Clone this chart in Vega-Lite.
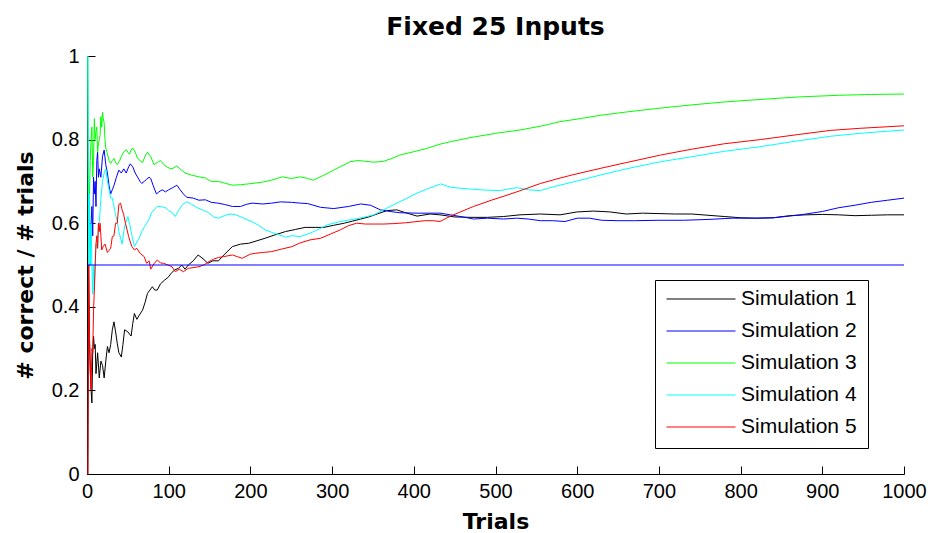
{
  "$schema": "https://vega.github.io/schema/vega-lite/v6.json",
  "width": 817,
  "height": 418,
  "autosize": "none",
  "padding": {"left": 87, "top": 56, "right": 24, "bottom": 59},
  "background": "white",
  "title": {"text": "Fixed 25 Inputs", "font": "DejaVu Sans", "fontSize": 25, "fontWeight": "bold", "color": "black", "anchor": "middle", "offset": 6},
  "config": {
    "view": {"stroke": null},
    "axis": {"grid": false, "domainColor": "black", "tickColor": "black", "labelColor": "black", "titleColor": "black", "labelFont": "Liberation Sans", "labelFontSize": 20, "titleFont": "DejaVu Sans", "titleFontSize": 22, "titleFontWeight": "bold", "tickSize": -8, "domainWidth": 1, "tickWidth": 1, "labelFlush": false, "labelOverlap": false}
  },
  "datasets": {
    "chance": [{"level": 0.5}],
    "sims": [
      {"sim":"Simulation 1","t":1,"v":0},{"sim":"Simulation 1","t":2,"v":0.5},{"sim":"Simulation 1","t":3,"v":0.33},{"sim":"Simulation 1","t":4,"v":0.25},{"sim":"Simulation 1","t":5,"v":0.2},{"sim":"Simulation 1","t":6,"v":0.17},{"sim":"Simulation 1","t":7,"v":0.29},{"sim":"Simulation 1","t":8,"v":0.33},{"sim":"Simulation 1","t":9,"v":0.3},{"sim":"Simulation 1","t":10,"v":0.31},{"sim":"Simulation 1","t":11,"v":0.24},{"sim":"Simulation 1","t":13,"v":0.29},{"sim":"Simulation 1","t":15,"v":0.23},{"sim":"Simulation 1","t":17,"v":0.27},{"sim":"Simulation 1","t":19,"v":0.26},{"sim":"Simulation 1","t":21,"v":0.23},{"sim":"Simulation 1","t":23,"v":0.27},{"sim":"Simulation 1","t":25,"v":0.305},{"sim":"Simulation 1","t":27,"v":0.29},{"sim":"Simulation 1","t":29,"v":0.31},{"sim":"Simulation 1","t":31,"v":0.345},{"sim":"Simulation 1","t":33,"v":0.364},{"sim":"Simulation 1","t":35,"v":0.34},{"sim":"Simulation 1","t":37,"v":0.313},{"sim":"Simulation 1","t":39,"v":0.29},{"sim":"Simulation 1","t":42,"v":0.28},{"sim":"Simulation 1","t":44,"v":0.31},{"sim":"Simulation 1","t":46,"v":0.345},{"sim":"Simulation 1","t":50,"v":0.34},{"sim":"Simulation 1","t":54,"v":0.33},{"sim":"Simulation 1","t":56,"v":0.36},{"sim":"Simulation 1","t":58,"v":0.384},{"sim":"Simulation 1","t":61,"v":0.37},{"sim":"Simulation 1","t":64,"v":0.38},{"sim":"Simulation 1","t":68,"v":0.392},{"sim":"Simulation 1","t":71,"v":0.41},{"sim":"Simulation 1","t":74,"v":0.432},{"sim":"Simulation 1","t":77,"v":0.44},{"sim":"Simulation 1","t":80,"v":0.448},{"sim":"Simulation 1","t":83,"v":0.44},{"sim":"Simulation 1","t":86,"v":0.44},{"sim":"Simulation 1","t":90,"v":0.455},{"sim":"Simulation 1","t":95,"v":0.464},{"sim":"Simulation 1","t":99,"v":0.47},{"sim":"Simulation 1","t":103,"v":0.48},{"sim":"Simulation 1","t":107,"v":0.488},{"sim":"Simulation 1","t":112,"v":0.492},{"sim":"Simulation 1","t":116,"v":0.5},{"sim":"Simulation 1","t":120,"v":0.49},{"sim":"Simulation 1","t":124,"v":0.5},{"sim":"Simulation 1","t":130,"v":0.51},{"sim":"Simulation 1","t":136,"v":0.524},{"sim":"Simulation 1","t":142,"v":0.515},{"sim":"Simulation 1","t":148,"v":0.504},{"sim":"Simulation 1","t":154,"v":0.51},{"sim":"Simulation 1","t":161,"v":0.51},{"sim":"Simulation 1","t":168,"v":0.525},{"sim":"Simulation 1","t":178,"v":0.544},{"sim":"Simulation 1","t":188,"v":0.55},{"sim":"Simulation 1","t":198,"v":0.552},{"sim":"Simulation 1","t":208,"v":0.558},{"sim":"Simulation 1","t":218,"v":0.564},{"sim":"Simulation 1","t":230,"v":0.572},{"sim":"Simulation 1","t":243,"v":0.58},{"sim":"Simulation 1","t":255,"v":0.585},{"sim":"Simulation 1","t":267,"v":0.59},{"sim":"Simulation 1","t":280,"v":0.59},{"sim":"Simulation 1","t":290,"v":0.59},{"sim":"Simulation 1","t":302,"v":0.595},{"sim":"Simulation 1","t":315,"v":0.6},{"sim":"Simulation 1","t":325,"v":0.605},{"sim":"Simulation 1","t":335,"v":0.61},{"sim":"Simulation 1","t":345,"v":0.615},{"sim":"Simulation 1","t":355,"v":0.622},{"sim":"Simulation 1","t":367,"v":0.63},{"sim":"Simulation 1","t":379,"v":0.632},{"sim":"Simulation 1","t":390,"v":0.625},{"sim":"Simulation 1","t":404,"v":0.617},{"sim":"Simulation 1","t":420,"v":0.622},{"sim":"Simulation 1","t":432,"v":0.62},{"sim":"Simulation 1","t":450,"v":0.615},{"sim":"Simulation 1","t":470,"v":0.614},{"sim":"Simulation 1","t":490,"v":0.614},{"sim":"Simulation 1","t":510,"v":0.616},{"sim":"Simulation 1","t":530,"v":0.62},{"sim":"Simulation 1","t":555,"v":0.622},{"sim":"Simulation 1","t":579,"v":0.62},{"sim":"Simulation 1","t":600,"v":0.627},{"sim":"Simulation 1","t":620,"v":0.629},{"sim":"Simulation 1","t":640,"v":0.627},{"sim":"Simulation 1","t":660,"v":0.622},{"sim":"Simulation 1","t":680,"v":0.624},{"sim":"Simulation 1","t":700,"v":0.623},{"sim":"Simulation 1","t":720,"v":0.622},{"sim":"Simulation 1","t":740,"v":0.622},{"sim":"Simulation 1","t":760,"v":0.619},{"sim":"Simulation 1","t":780,"v":0.616},{"sim":"Simulation 1","t":800,"v":0.613},{"sim":"Simulation 1","t":820,"v":0.612},{"sim":"Simulation 1","t":840,"v":0.613},{"sim":"Simulation 1","t":860,"v":0.618},{"sim":"Simulation 1","t":880,"v":0.62},{"sim":"Simulation 1","t":900,"v":0.621},{"sim":"Simulation 1","t":920,"v":0.62},{"sim":"Simulation 1","t":940,"v":0.618},{"sim":"Simulation 1","t":960,"v":0.619},{"sim":"Simulation 1","t":980,"v":0.62},{"sim":"Simulation 1","t":1000,"v":0.62},

      {"sim":"Simulation 2","t":2,"v":0.5},{"sim":"Simulation 2","t":4,"v":0.5},{"sim":"Simulation 2","t":5,"v":0.6},{"sim":"Simulation 2","t":6,"v":0.64},{"sim":"Simulation 2","t":7,"v":0.57},{"sim":"Simulation 2","t":8,"v":0.71},{"sim":"Simulation 2","t":9,"v":0.67},{"sim":"Simulation 2","t":10,"v":0.7},{"sim":"Simulation 2","t":11,"v":0.64},{"sim":"Simulation 2","t":12,"v":0.75},{"sim":"Simulation 2","t":13,"v":0.77},{"sim":"Simulation 2","t":14,"v":0.71},{"sim":"Simulation 2","t":15,"v":0.73},{"sim":"Simulation 2","t":17,"v":0.71},{"sim":"Simulation 2","t":19,"v":0.76},{"sim":"Simulation 2","t":21,"v":0.775},{"sim":"Simulation 2","t":23,"v":0.74},{"sim":"Simulation 2","t":25,"v":0.72},{"sim":"Simulation 2","t":27,"v":0.69},{"sim":"Simulation 2","t":29,"v":0.67},{"sim":"Simulation 2","t":31,"v":0.68},{"sim":"Simulation 2","t":33,"v":0.69},{"sim":"Simulation 2","t":36,"v":0.71},{"sim":"Simulation 2","t":39,"v":0.727},{"sim":"Simulation 2","t":42,"v":0.72},{"sim":"Simulation 2","t":45,"v":0.73},{"sim":"Simulation 2","t":48,"v":0.72},{"sim":"Simulation 2","t":51,"v":0.735},{"sim":"Simulation 2","t":53,"v":0.742},{"sim":"Simulation 2","t":56,"v":0.735},{"sim":"Simulation 2","t":59,"v":0.72},{"sim":"Simulation 2","t":62,"v":0.71},{"sim":"Simulation 2","t":65,"v":0.7},{"sim":"Simulation 2","t":67,"v":0.695},{"sim":"Simulation 2","t":70,"v":0.7},{"sim":"Simulation 2","t":73,"v":0.705},{"sim":"Simulation 2","t":76,"v":0.71},{"sim":"Simulation 2","t":78,"v":0.707},{"sim":"Simulation 2","t":81,"v":0.69},{"sim":"Simulation 2","t":85,"v":0.67},{"sim":"Simulation 2","t":88,"v":0.675},{"sim":"Simulation 2","t":92,"v":0.68},{"sim":"Simulation 2","t":96,"v":0.675},{"sim":"Simulation 2","t":100,"v":0.68},{"sim":"Simulation 2","t":105,"v":0.685},{"sim":"Simulation 2","t":110,"v":0.691},{"sim":"Simulation 2","t":114,"v":0.68},{"sim":"Simulation 2","t":118,"v":0.67},{"sim":"Simulation 2","t":122,"v":0.662},{"sim":"Simulation 2","t":130,"v":0.66},{"sim":"Simulation 2","t":137,"v":0.655},{"sim":"Simulation 2","t":145,"v":0.656},{"sim":"Simulation 2","t":152,"v":0.65},{"sim":"Simulation 2","t":160,"v":0.648},{"sim":"Simulation 2","t":168,"v":0.645},{"sim":"Simulation 2","t":178,"v":0.64},{"sim":"Simulation 2","t":188,"v":0.64},{"sim":"Simulation 2","t":195,"v":0.645},{"sim":"Simulation 2","t":202,"v":0.648},{"sim":"Simulation 2","t":215,"v":0.646},{"sim":"Simulation 2","t":226,"v":0.648},{"sim":"Simulation 2","t":237,"v":0.651},{"sim":"Simulation 2","t":250,"v":0.65},{"sim":"Simulation 2","t":261,"v":0.648},{"sim":"Simulation 2","t":270,"v":0.647},{"sim":"Simulation 2","t":286,"v":0.638},{"sim":"Simulation 2","t":302,"v":0.635},{"sim":"Simulation 2","t":320,"v":0.64},{"sim":"Simulation 2","t":335,"v":0.646},{"sim":"Simulation 2","t":347,"v":0.643},{"sim":"Simulation 2","t":359,"v":0.632},{"sim":"Simulation 2","t":371,"v":0.628},{"sim":"Simulation 2","t":383,"v":0.625},{"sim":"Simulation 2","t":404,"v":0.624},{"sim":"Simulation 2","t":420,"v":0.624},{"sim":"Simulation 2","t":432,"v":0.624},{"sim":"Simulation 2","t":445,"v":0.62},{"sim":"Simulation 2","t":460,"v":0.615},{"sim":"Simulation 2","t":473,"v":0.61},{"sim":"Simulation 2","t":490,"v":0.612},{"sim":"Simulation 2","t":510,"v":0.61},{"sim":"Simulation 2","t":526,"v":0.612},{"sim":"Simulation 2","t":540,"v":0.61},{"sim":"Simulation 2","t":555,"v":0.606},{"sim":"Simulation 2","t":570,"v":0.606},{"sim":"Simulation 2","t":585,"v":0.604},{"sim":"Simulation 2","t":600,"v":0.612},{"sim":"Simulation 2","t":615,"v":0.612},{"sim":"Simulation 2","t":630,"v":0.607},{"sim":"Simulation 2","t":650,"v":0.606},{"sim":"Simulation 2","t":670,"v":0.606},{"sim":"Simulation 2","t":700,"v":0.607},{"sim":"Simulation 2","t":730,"v":0.607},{"sim":"Simulation 2","t":760,"v":0.609},{"sim":"Simulation 2","t":790,"v":0.612},{"sim":"Simulation 2","t":820,"v":0.612},{"sim":"Simulation 2","t":840,"v":0.613},{"sim":"Simulation 2","t":860,"v":0.617},{"sim":"Simulation 2","t":880,"v":0.622},{"sim":"Simulation 2","t":900,"v":0.628},{"sim":"Simulation 2","t":920,"v":0.637},{"sim":"Simulation 2","t":940,"v":0.643},{"sim":"Simulation 2","t":960,"v":0.65},{"sim":"Simulation 2","t":980,"v":0.655},{"sim":"Simulation 2","t":1000,"v":0.66},

      {"sim":"Simulation 3","t":1,"v":1},{"sim":"Simulation 3","t":2,"v":0.5},{"sim":"Simulation 3","t":3,"v":0.67},{"sim":"Simulation 3","t":4,"v":0.75},{"sim":"Simulation 3","t":5,"v":0.8},{"sim":"Simulation 3","t":6,"v":0.83},{"sim":"Simulation 3","t":7,"v":0.71},{"sim":"Simulation 3","t":8,"v":0.75},{"sim":"Simulation 3","t":9,"v":0.85},{"sim":"Simulation 3","t":10,"v":0.8},{"sim":"Simulation 3","t":11,"v":0.82},{"sim":"Simulation 3","t":12,"v":0.83},{"sim":"Simulation 3","t":13,"v":0.77},{"sim":"Simulation 3","t":14,"v":0.79},{"sim":"Simulation 3","t":15,"v":0.8},{"sim":"Simulation 3","t":16,"v":0.81},{"sim":"Simulation 3","t":17,"v":0.855},{"sim":"Simulation 3","t":18,"v":0.83},{"sim":"Simulation 3","t":19,"v":0.865},{"sim":"Simulation 3","t":20,"v":0.85},{"sim":"Simulation 3","t":21,"v":0.84},{"sim":"Simulation 3","t":22,"v":0.8},{"sim":"Simulation 3","t":23,"v":0.78},{"sim":"Simulation 3","t":25,"v":0.766},{"sim":"Simulation 3","t":27,"v":0.75},{"sim":"Simulation 3","t":29,"v":0.743},{"sim":"Simulation 3","t":31,"v":0.75},{"sim":"Simulation 3","t":33,"v":0.755},{"sim":"Simulation 3","t":35,"v":0.745},{"sim":"Simulation 3","t":37,"v":0.74},{"sim":"Simulation 3","t":40,"v":0.75},{"sim":"Simulation 3","t":42,"v":0.76},{"sim":"Simulation 3","t":45,"v":0.77},{"sim":"Simulation 3","t":48,"v":0.776},{"sim":"Simulation 3","t":50,"v":0.77},{"sim":"Simulation 3","t":52,"v":0.765},{"sim":"Simulation 3","t":54,"v":0.775},{"sim":"Simulation 3","t":56,"v":0.78},{"sim":"Simulation 3","t":59,"v":0.77},{"sim":"Simulation 3","t":62,"v":0.755},{"sim":"Simulation 3","t":65,"v":0.75},{"sim":"Simulation 3","t":68,"v":0.745},{"sim":"Simulation 3","t":71,"v":0.76},{"sim":"Simulation 3","t":74,"v":0.77},{"sim":"Simulation 3","t":78,"v":0.759},{"sim":"Simulation 3","t":82,"v":0.74},{"sim":"Simulation 3","t":86,"v":0.745},{"sim":"Simulation 3","t":90,"v":0.75},{"sim":"Simulation 3","t":94,"v":0.74},{"sim":"Simulation 3","t":99,"v":0.733},{"sim":"Simulation 3","t":104,"v":0.73},{"sim":"Simulation 3","t":110,"v":0.737},{"sim":"Simulation 3","t":115,"v":0.728},{"sim":"Simulation 3","t":120,"v":0.72},{"sim":"Simulation 3","t":128,"v":0.715},{"sim":"Simulation 3","t":137,"v":0.711},{"sim":"Simulation 3","t":145,"v":0.708},{"sim":"Simulation 3","t":152,"v":0.7},{"sim":"Simulation 3","t":161,"v":0.7},{"sim":"Simulation 3","t":170,"v":0.695},{"sim":"Simulation 3","t":178,"v":0.691},{"sim":"Simulation 3","t":188,"v":0.692},{"sim":"Simulation 3","t":202,"v":0.695},{"sim":"Simulation 3","t":214,"v":0.698},{"sim":"Simulation 3","t":226,"v":0.703},{"sim":"Simulation 3","t":239,"v":0.711},{"sim":"Simulation 3","t":250,"v":0.707},{"sim":"Simulation 3","t":261,"v":0.711},{"sim":"Simulation 3","t":270,"v":0.707},{"sim":"Simulation 3","t":277,"v":0.703},{"sim":"Simulation 3","t":290,"v":0.715},{"sim":"Simulation 3","t":302,"v":0.727},{"sim":"Simulation 3","t":312,"v":0.737},{"sim":"Simulation 3","t":322,"v":0.747},{"sim":"Simulation 3","t":332,"v":0.75},{"sim":"Simulation 3","t":341,"v":0.748},{"sim":"Simulation 3","t":351,"v":0.746},{"sim":"Simulation 3","t":363,"v":0.748},{"sim":"Simulation 3","t":373,"v":0.755},{"sim":"Simulation 3","t":383,"v":0.763},{"sim":"Simulation 3","t":400,"v":0.771},{"sim":"Simulation 3","t":416,"v":0.779},{"sim":"Simulation 3","t":432,"v":0.789},{"sim":"Simulation 3","t":445,"v":0.795},{"sim":"Simulation 3","t":470,"v":0.805},{"sim":"Simulation 3","t":500,"v":0.815},{"sim":"Simulation 3","t":530,"v":0.823},{"sim":"Simulation 3","t":555,"v":0.832},{"sim":"Simulation 3","t":579,"v":0.843},{"sim":"Simulation 3","t":600,"v":0.849},{"sim":"Simulation 3","t":628,"v":0.858},{"sim":"Simulation 3","t":660,"v":0.866},{"sim":"Simulation 3","t":700,"v":0.875},{"sim":"Simulation 3","t":740,"v":0.883},{"sim":"Simulation 3","t":780,"v":0.89},{"sim":"Simulation 3","t":824,"v":0.896},{"sim":"Simulation 3","t":870,"v":0.902},{"sim":"Simulation 3","t":920,"v":0.906},{"sim":"Simulation 3","t":960,"v":0.908},{"sim":"Simulation 3","t":1000,"v":0.909},

      {"sim":"Simulation 4","t":1,"v":1},{"sim":"Simulation 4","t":2,"v":0.5},{"sim":"Simulation 4","t":3,"v":0.67},{"sim":"Simulation 4","t":4,"v":0.5},{"sim":"Simulation 4","t":5,"v":0.6},{"sim":"Simulation 4","t":6,"v":0.5},{"sim":"Simulation 4","t":7,"v":0.43},{"sim":"Simulation 4","t":8,"v":0.5},{"sim":"Simulation 4","t":9,"v":0.44},{"sim":"Simulation 4","t":10,"v":0.5},{"sim":"Simulation 4","t":11,"v":0.55},{"sim":"Simulation 4","t":13,"v":0.54},{"sim":"Simulation 4","t":14,"v":0.6},{"sim":"Simulation 4","t":15,"v":0.6},{"sim":"Simulation 4","t":17,"v":0.66},{"sim":"Simulation 4","t":19,"v":0.7},{"sim":"Simulation 4","t":21,"v":0.72},{"sim":"Simulation 4","t":23,"v":0.73},{"sim":"Simulation 4","t":25,"v":0.7},{"sim":"Simulation 4","t":27,"v":0.68},{"sim":"Simulation 4","t":29,"v":0.66},{"sim":"Simulation 4","t":31,"v":0.66},{"sim":"Simulation 4","t":33,"v":0.64},{"sim":"Simulation 4","t":35,"v":0.62},{"sim":"Simulation 4","t":37,"v":0.605},{"sim":"Simulation 4","t":39,"v":0.58},{"sim":"Simulation 4","t":41,"v":0.565},{"sim":"Simulation 4","t":43,"v":0.55},{"sim":"Simulation 4","t":45,"v":0.58},{"sim":"Simulation 4","t":47,"v":0.6},{"sim":"Simulation 4","t":50,"v":0.616},{"sim":"Simulation 4","t":52,"v":0.6},{"sim":"Simulation 4","t":55,"v":0.57},{"sim":"Simulation 4","t":58,"v":0.544},{"sim":"Simulation 4","t":61,"v":0.555},{"sim":"Simulation 4","t":64,"v":0.565},{"sim":"Simulation 4","t":67,"v":0.58},{"sim":"Simulation 4","t":70,"v":0.59},{"sim":"Simulation 4","t":73,"v":0.6},{"sim":"Simulation 4","t":76,"v":0.61},{"sim":"Simulation 4","t":79,"v":0.625},{"sim":"Simulation 4","t":82,"v":0.632},{"sim":"Simulation 4","t":86,"v":0.64},{"sim":"Simulation 4","t":90,"v":0.64},{"sim":"Simulation 4","t":94,"v":0.638},{"sim":"Simulation 4","t":97,"v":0.636},{"sim":"Simulation 4","t":100,"v":0.63},{"sim":"Simulation 4","t":104,"v":0.626},{"sim":"Simulation 4","t":108,"v":0.616},{"sim":"Simulation 4","t":112,"v":0.63},{"sim":"Simulation 4","t":117,"v":0.645},{"sim":"Simulation 4","t":122,"v":0.651},{"sim":"Simulation 4","t":128,"v":0.645},{"sim":"Simulation 4","t":134,"v":0.638},{"sim":"Simulation 4","t":141,"v":0.632},{"sim":"Simulation 4","t":148,"v":0.626},{"sim":"Simulation 4","t":155,"v":0.615},{"sim":"Simulation 4","t":161,"v":0.612},{"sim":"Simulation 4","t":168,"v":0.618},{"sim":"Simulation 4","t":175,"v":0.622},{"sim":"Simulation 4","t":182,"v":0.62},{"sim":"Simulation 4","t":190,"v":0.614},{"sim":"Simulation 4","t":196,"v":0.608},{"sim":"Simulation 4","t":202,"v":0.604},{"sim":"Simulation 4","t":210,"v":0.595},{"sim":"Simulation 4","t":218,"v":0.584},{"sim":"Simulation 4","t":226,"v":0.578},{"sim":"Simulation 4","t":235,"v":0.572},{"sim":"Simulation 4","t":243,"v":0.567},{"sim":"Simulation 4","t":251,"v":0.57},{"sim":"Simulation 4","t":261,"v":0.568},{"sim":"Simulation 4","t":273,"v":0.576},{"sim":"Simulation 4","t":284,"v":0.586},{"sim":"Simulation 4","t":294,"v":0.596},{"sim":"Simulation 4","t":308,"v":0.603},{"sim":"Simulation 4","t":322,"v":0.608},{"sim":"Simulation 4","t":336,"v":0.613},{"sim":"Simulation 4","t":351,"v":0.62},{"sim":"Simulation 4","t":363,"v":0.632},{"sim":"Simulation 4","t":375,"v":0.644},{"sim":"Simulation 4","t":390,"v":0.658},{"sim":"Simulation 4","t":404,"v":0.672},{"sim":"Simulation 4","t":418,"v":0.683},{"sim":"Simulation 4","t":433,"v":0.694},{"sim":"Simulation 4","t":445,"v":0.686},{"sim":"Simulation 4","t":460,"v":0.683},{"sim":"Simulation 4","t":473,"v":0.681},{"sim":"Simulation 4","t":490,"v":0.679},{"sim":"Simulation 4","t":506,"v":0.678},{"sim":"Simulation 4","t":516,"v":0.682},{"sim":"Simulation 4","t":526,"v":0.685},{"sim":"Simulation 4","t":540,"v":0.68},{"sim":"Simulation 4","t":555,"v":0.678},{"sim":"Simulation 4","t":565,"v":0.684},{"sim":"Simulation 4","t":579,"v":0.691},{"sim":"Simulation 4","t":600,"v":0.701},{"sim":"Simulation 4","t":628,"v":0.715},{"sim":"Simulation 4","t":660,"v":0.73},{"sim":"Simulation 4","t":702,"v":0.747},{"sim":"Simulation 4","t":740,"v":0.759},{"sim":"Simulation 4","t":780,"v":0.772},{"sim":"Simulation 4","t":824,"v":0.783},{"sim":"Simulation 4","t":870,"v":0.797},{"sim":"Simulation 4","t":910,"v":0.808},{"sim":"Simulation 4","t":946,"v":0.815},{"sim":"Simulation 4","t":1000,"v":0.823},

      {"sim":"Simulation 5","t":1,"v":0},{"sim":"Simulation 5","t":2,"v":0.5},{"sim":"Simulation 5","t":3,"v":0.33},{"sim":"Simulation 5","t":4,"v":0.25},{"sim":"Simulation 5","t":5,"v":0.2},{"sim":"Simulation 5","t":6,"v":0.3},{"sim":"Simulation 5","t":7,"v":0.29},{"sim":"Simulation 5","t":8,"v":0.39},{"sim":"Simulation 5","t":9,"v":0.44},{"sim":"Simulation 5","t":10,"v":0.5},{"sim":"Simulation 5","t":11,"v":0.55},{"sim":"Simulation 5","t":12,"v":0.57},{"sim":"Simulation 5","t":13,"v":0.54},{"sim":"Simulation 5","t":14,"v":0.6},{"sim":"Simulation 5","t":15,"v":0.58},{"sim":"Simulation 5","t":16,"v":0.6},{"sim":"Simulation 5","t":17,"v":0.57},{"sim":"Simulation 5","t":18,"v":0.536},{"sim":"Simulation 5","t":20,"v":0.545},{"sim":"Simulation 5","t":22,"v":0.55},{"sim":"Simulation 5","t":25,"v":0.53},{"sim":"Simulation 5","t":27,"v":0.535},{"sim":"Simulation 5","t":29,"v":0.54},{"sim":"Simulation 5","t":31,"v":0.568},{"sim":"Simulation 5","t":33,"v":0.57},{"sim":"Simulation 5","t":35,"v":0.6},{"sim":"Simulation 5","t":37,"v":0.6},{"sim":"Simulation 5","t":39,"v":0.645},{"sim":"Simulation 5","t":41,"v":0.648},{"sim":"Simulation 5","t":43,"v":0.632},{"sim":"Simulation 5","t":45,"v":0.62},{"sim":"Simulation 5","t":47,"v":0.6},{"sim":"Simulation 5","t":49,"v":0.584},{"sim":"Simulation 5","t":51,"v":0.568},{"sim":"Simulation 5","t":53,"v":0.555},{"sim":"Simulation 5","t":55,"v":0.544},{"sim":"Simulation 5","t":58,"v":0.536},{"sim":"Simulation 5","t":61,"v":0.54},{"sim":"Simulation 5","t":65,"v":0.528},{"sim":"Simulation 5","t":70,"v":0.52},{"sim":"Simulation 5","t":73,"v":0.504},{"sim":"Simulation 5","t":76,"v":0.51},{"sim":"Simulation 5","t":78,"v":0.49},{"sim":"Simulation 5","t":82,"v":0.503},{"sim":"Simulation 5","t":86,"v":0.512},{"sim":"Simulation 5","t":90,"v":0.505},{"sim":"Simulation 5","t":94,"v":0.504},{"sim":"Simulation 5","t":99,"v":0.5},{"sim":"Simulation 5","t":104,"v":0.496},{"sim":"Simulation 5","t":108,"v":0.484},{"sim":"Simulation 5","t":113,"v":0.49},{"sim":"Simulation 5","t":118,"v":0.484},{"sim":"Simulation 5","t":124,"v":0.492},{"sim":"Simulation 5","t":131,"v":0.494},{"sim":"Simulation 5","t":137,"v":0.496},{"sim":"Simulation 5","t":143,"v":0.5},{"sim":"Simulation 5","t":149,"v":0.508},{"sim":"Simulation 5","t":155,"v":0.514},{"sim":"Simulation 5","t":161,"v":0.518},{"sim":"Simulation 5","t":167,"v":0.52},{"sim":"Simulation 5","t":178,"v":0.524},{"sim":"Simulation 5","t":184,"v":0.52},{"sim":"Simulation 5","t":190,"v":0.516},{"sim":"Simulation 5","t":200,"v":0.526},{"sim":"Simulation 5","t":206,"v":0.528},{"sim":"Simulation 5","t":215,"v":0.53},{"sim":"Simulation 5","t":226,"v":0.532},{"sim":"Simulation 5","t":238,"v":0.538},{"sim":"Simulation 5","t":251,"v":0.544},{"sim":"Simulation 5","t":261,"v":0.553},{"sim":"Simulation 5","t":273,"v":0.56},{"sim":"Simulation 5","t":286,"v":0.564},{"sim":"Simulation 5","t":298,"v":0.574},{"sim":"Simulation 5","t":310,"v":0.584},{"sim":"Simulation 5","t":320,"v":0.594},{"sim":"Simulation 5","t":330,"v":0.6},{"sim":"Simulation 5","t":341,"v":0.598},{"sim":"Simulation 5","t":351,"v":0.598},{"sim":"Simulation 5","t":363,"v":0.598},{"sim":"Simulation 5","t":375,"v":0.599},{"sim":"Simulation 5","t":390,"v":0.601},{"sim":"Simulation 5","t":404,"v":0.604},{"sim":"Simulation 5","t":414,"v":0.606},{"sim":"Simulation 5","t":424,"v":0.606},{"sim":"Simulation 5","t":432,"v":0.604},{"sim":"Simulation 5","t":445,"v":0.617},{"sim":"Simulation 5","t":473,"v":0.64},{"sim":"Simulation 5","t":495,"v":0.655},{"sim":"Simulation 5","t":514,"v":0.667},{"sim":"Simulation 5","t":535,"v":0.681},{"sim":"Simulation 5","t":555,"v":0.695},{"sim":"Simulation 5","t":579,"v":0.708},{"sim":"Simulation 5","t":595,"v":0.716},{"sim":"Simulation 5","t":628,"v":0.731},{"sim":"Simulation 5","t":660,"v":0.745},{"sim":"Simulation 5","t":702,"v":0.763},{"sim":"Simulation 5","t":740,"v":0.777},{"sim":"Simulation 5","t":780,"v":0.79},{"sim":"Simulation 5","t":824,"v":0.8},{"sim":"Simulation 5","t":870,"v":0.812},{"sim":"Simulation 5","t":910,"v":0.822},{"sim":"Simulation 5","t":946,"v":0.827},{"sim":"Simulation 5","t":1000,"v":0.833}
    ]
  },
  "layer": [
    {
      "data": {"name": "sims"},
      "mark": {"type": "line", "strokeWidth": 1, "interpolate": "linear"},
      "encoding": {
        "x": {"field": "t", "type": "quantitative", "scale": {"domain": [0, 1000], "nice": false}, "axis": {"values": [0,100,200,300,400,500,600,700,800,900,1000], "format": "d", "title": "Trials", "labelPadding": 15, "titlePadding": 10}},
        "y": {"field": "v", "type": "quantitative", "scale": {"domain": [0, 1], "nice": false}, "axis": {"values": [0,0.2,0.4,0.6,0.8,1], "format": "~g", "title": "# correct / # trials", "labelPadding": 16, "titlePadding": 14}},
        "color": {"field": "sim", "type": "nominal", "scale": {"domain": ["Simulation 1","Simulation 2","Simulation 3","Simulation 4","Simulation 5"], "range": ["#000000","#0000ff","#00ff00","#00ffff","#ff0000"]},
          "legend": {"title": null, "orient": "none", "legendX": 568, "legendY": 224, "symbolType": "stroke", "symbolSize": 4761, "symbolStrokeWidth": 1, "clipHeight": 16, "rowPadding": 11, "labelFont": "Liberation Sans", "labelFontSize": 21, "labelColor": "black", "labelOffset": 5, "padding": 11, "strokeColor": "black", "fillColor": "white", "cornerRadius": 0}}
      }
    },
    {
      "data": {"name": "chance"},
      "mark": {"type": "rule", "color": "#0000ff", "strokeWidth": 1},
      "encoding": {"y": {"field": "level", "type": "quantitative"}}
    }
  ]
}
